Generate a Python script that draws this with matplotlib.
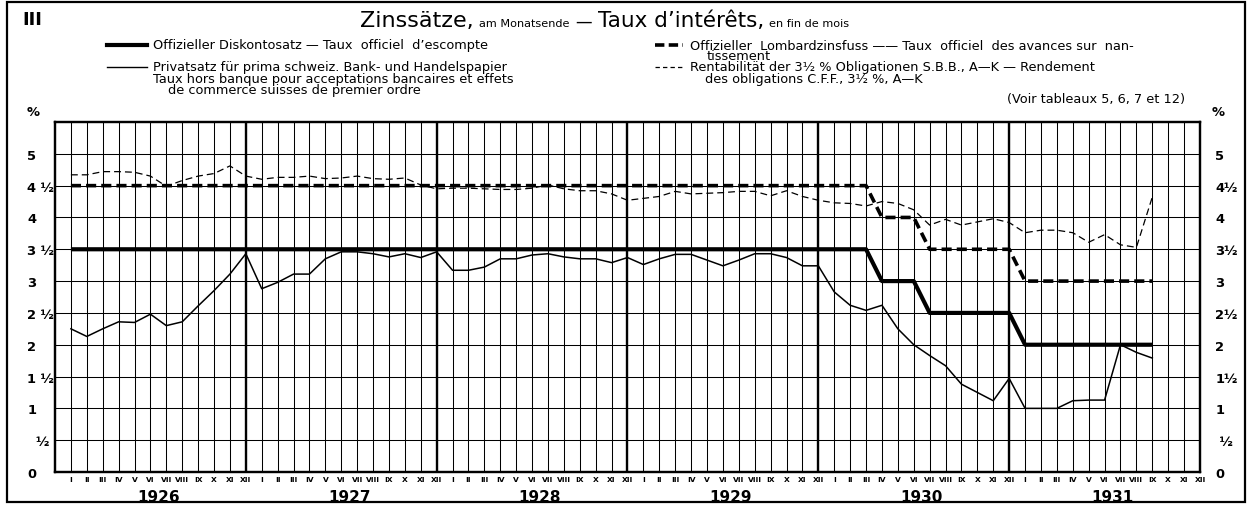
import numpy as np
import matplotlib
matplotlib.use("Agg")
import matplotlib.pyplot as plt
from matplotlib.lines import Line2D
from matplotlib.patches import Rectangle

# ---------------- data (end of month, Jan 1926 .. Sep 1931) ----------------
years = ["1926", "1927", "1928", "1929", "1930", "1931"]
month_labels = ["I", "II", "III", "IV", "V", "VI", "VII", "VIII", "IX", "X", "XI", "XII"]

discount = [3.5, 3.5, 3.5, 3.5, 3.5, 3.5, 3.5, 3.5, 3.5, 3.5, 3.5, 3.5,
            3.5, 3.5, 3.5, 3.5, 3.5, 3.5, 3.5, 3.5, 3.5, 3.5, 3.5, 3.5,
            3.5, 3.5, 3.5, 3.5, 3.5, 3.5, 3.5, 3.5, 3.5, 3.5, 3.5, 3.5,
            3.5, 3.5, 3.5, 3.5, 3.5, 3.5, 3.5, 3.5, 3.5, 3.5, 3.5, 3.5,
            3.5, 3.5, 3.5, 3.0, 3.0, 3.0, 2.5, 2.5, 2.5, 2.5, 2.5, 2.5,
            2.0, 2.0, 2.0, 2.0, 2.0, 2.0, 2.0, 2.0, 2.0]

lombard = [4.5, 4.5, 4.5, 4.5, 4.5, 4.5, 4.5, 4.5, 4.5, 4.5, 4.5, 4.5,
           4.5, 4.5, 4.5, 4.5, 4.5, 4.5, 4.5, 4.5, 4.5, 4.5, 4.5, 4.5,
           4.5, 4.5, 4.5, 4.5, 4.5, 4.5, 4.5, 4.5, 4.5, 4.5, 4.5, 4.5,
           4.5, 4.5, 4.5, 4.5, 4.5, 4.5, 4.5, 4.5, 4.5, 4.5, 4.5, 4.5,
           4.5, 4.5, 4.5, 4.0, 4.0, 4.0, 3.5, 3.5, 3.5, 3.5, 3.5, 3.5,
           3.0, 3.0, 3.0, 3.0, 3.0, 3.0, 3.0, 3.0, 3.0]

private = [2.25, 2.13, 2.25, 2.36, 2.35, 2.48, 2.30, 2.36, 2.61, 2.85, 3.11, 3.43,
           2.88, 2.98, 3.11, 3.11, 3.35, 3.46, 3.46, 3.43, 3.38, 3.43, 3.37, 3.46,
           3.17, 3.17, 3.22, 3.35, 3.35, 3.41, 3.43, 3.38, 3.35, 3.35, 3.29, 3.37,
           3.26, 3.35, 3.42, 3.42, 3.33, 3.24, 3.33, 3.43, 3.43, 3.37, 3.24, 3.24,
           2.83, 2.62, 2.54, 2.62, 2.25, 2.00, 1.83, 1.67, 1.38, 1.25, 1.12, 1.47,
           1.00, 1.00, 1.00, 1.12, 1.13, 1.13, 2.00, 1.88, 1.79]

bonds = [4.67, 4.67, 4.72, 4.72, 4.71, 4.65, 4.49, 4.58, 4.65, 4.69, 4.81, 4.65,
         4.60, 4.63, 4.63, 4.65, 4.61, 4.62, 4.65, 4.61, 4.60, 4.62, 4.51, 4.45,
         4.46, 4.46, 4.45, 4.44, 4.44, 4.46, 4.51, 4.45, 4.42, 4.42, 4.37, 4.27,
         4.30, 4.33, 4.41, 4.37, 4.38, 4.39, 4.41, 4.41, 4.34, 4.42, 4.33, 4.27,
         4.23, 4.22, 4.18, 4.25, 4.22, 4.12, 3.88, 3.97, 3.88, 3.93, 3.98, 3.92,
         3.76, 3.80, 3.80, 3.76, 3.61, 3.73, 3.57, 3.53, 4.32]

y_ticks = [0, 0.5, 1, 1.5, 2, 2.5, 3, 3.5, 4, 4.5, 5]
y_labels_left = ["0", "  ½", "1", "1 ½", "2", "2 ½", "3", "3 ½", "4", "4 ½", "5"]
y_labels_right = ["0", " ½", "1", "1½", "2", "2½", "3", "3½", "4", "4½", "5"]

# ---------------- figure ----------------
W, H = 1253, 506
fig = plt.figure(figsize=(W / 100, H / 100), dpi=100)
fig.patch.set_facecolor("white")


def fx(x):
    return x / W


def fy(y):
    return 1 - y / H


ax = fig.add_axes([fx(55), fy(473), fx(1200) - fx(55), fy(123) - fy(473)])
n_months = len(years) * 12
ax.set_xlim(-1, n_months - 1)
ax.set_ylim(0, 5.5)

# grid
ax.set_xticks(np.arange(n_months))
ax.set_xticklabels(month_labels * len(years), fontsize=5.4, fontweight="bold")
ax.set_yticks(y_ticks)
ax.set_yticklabels(y_labels_left, fontsize=9.4, fontweight="bold")
ax.grid(True, color="black", lw=0.75, zorder=1)
ax.set_axisbelow(True)
ax.tick_params(axis="x", length=0, pad=3)
ax.tick_params(axis="y", length=0, pad=20)
for t in ax.get_yticklabels():
    t.set_horizontalalignment("left")
for s in ax.spines.values():
    s.set_linewidth(1.6)

# thicker year separators (at each December)
for i in range(n_months):
    if month_labels[i % 12] == "XII" and i < n_months - 1:
        ax.axvline(i, color="black", lw=1.7, zorder=2)

ax2 = ax.twinx()
ax2.set_ylim(ax.get_ylim())
ax2.set_yticks(y_ticks)
ax2.set_yticklabels(y_labels_right, fontsize=9.4, fontweight="bold")
ax2.tick_params(axis="y", length=0, pad=11)
for s in ax2.spines.values():
    s.set_linewidth(1.6)

x = np.arange(len(discount))
ax.plot(x, discount, color="black", lw=3.0, solid_capstyle="butt", zorder=6)
ax.plot(x, lombard, color="black", lw=2.6, dashes=(2.8, 1.4), zorder=6)
ax.plot(x, private, color="black", lw=1.1, zorder=5)
ax.plot(np.arange(len(bonds)), bonds, color="black", lw=0.9, dashes=(5.5, 3.2), zorder=5)

# year labels
for i, yr in enumerate(years):
    ax.text(12 * i + 5.5, -0.07, yr, transform=ax.get_xaxis_transform(),
            ha="center", va="center", fontsize=11, fontweight="bold")

# ---------------- header texts ----------------
renderer = fig.canvas.get_renderer()


def chain(x, y, parts):
    for s, size, gap in parts:
        t = fig.text(fx(x), fy(y), s, fontsize=size, ha="left", va="baseline")
        bb = t.get_window_extent(renderer)
        x = bb.x1 + gap


chain(360, 27, [("Zinssätze,", 16, 5), ("am Monatsende", 8.1, 6),
                ("—", 12, 6), ("Taux d’intérêts,", 15.5, 5), ("en fin de mois", 8.1, 0)])

fig.text(fx(22), fy(20), "III", fontsize=13, fontweight="bold", ha="left", va="center")

LS = 9.3
fig.add_artist(Line2D([fx(107), fx(147)], [fy(46), fy(46)], lw=3.0, color="black"))
fig.text(fx(153), fy(46), "Offizieller Diskontosatz — Taux  officiel  d’escompte",
         fontsize=LS, ha="left", va="center")
fig.add_artist(Line2D([fx(107), fx(147)], [fy(68), fy(68)], lw=1.0, color="black"))
fig.text(fx(153), fy(68), "Privatsatz für prima schweiz. Bank- und Handelspapier",
         fontsize=LS, ha="left", va="center")
fig.text(fx(153), fy(79.5), "Taux hors banque pour acceptations bancaires et effets",
         fontsize=LS, ha="left", va="center")
fig.text(fx(168), fy(91), "de commerce suisses de premier ordre",
         fontsize=LS, ha="left", va="center")

fig.add_artist(Line2D([fx(655), fx(683)], [fy(46), fy(46)], lw=2.6, color="black",
                      dashes=(2.6, 1.2)))
fig.text(fx(690), fy(46), "Offizieller  Lombardzinsfuss —— Taux  officiel  des avances sur  nan-",
         fontsize=LS, ha="left", va="center")
fig.text(fx(707), fy(57), "tissement", fontsize=LS, ha="left", va="center")
fig.add_artist(Line2D([fx(655), fx(683)], [fy(68), fy(68)], lw=0.9, color="black",
                      dashes=(3.5, 2.5)))
fig.text(fx(690), fy(68), "Rentabilität der 3½ % Obligationen S.B.B., A—K — Rendement",
         fontsize=LS, ha="left", va="center")
fig.text(fx(705), fy(79.5), "des obligations C.F.F., 3½ %, A—K",
         fontsize=LS, ha="left", va="center")
fig.text(fx(1185), fy(100), "(Voir tableaux 5, 6, 7 et 12)", fontsize=LS,
         ha="right", va="center")

fig.text(fx(27), fy(112), "%", fontsize=9.4, fontweight="bold", ha="left", va="center")
fig.text(fx(1212), fy(112), "%", fontsize=9.4, fontweight="bold", ha="left", va="center")

# outer frame
fig.add_artist(Rectangle((fx(7), fy(503)), fx(1245) - fx(7), fy(3) - fy(503),
                         fill=False, lw=1.6, edgecolor="black",
                         transform=fig.transFigure))

fig.savefig("out.png", dpi=100, facecolor="white")
